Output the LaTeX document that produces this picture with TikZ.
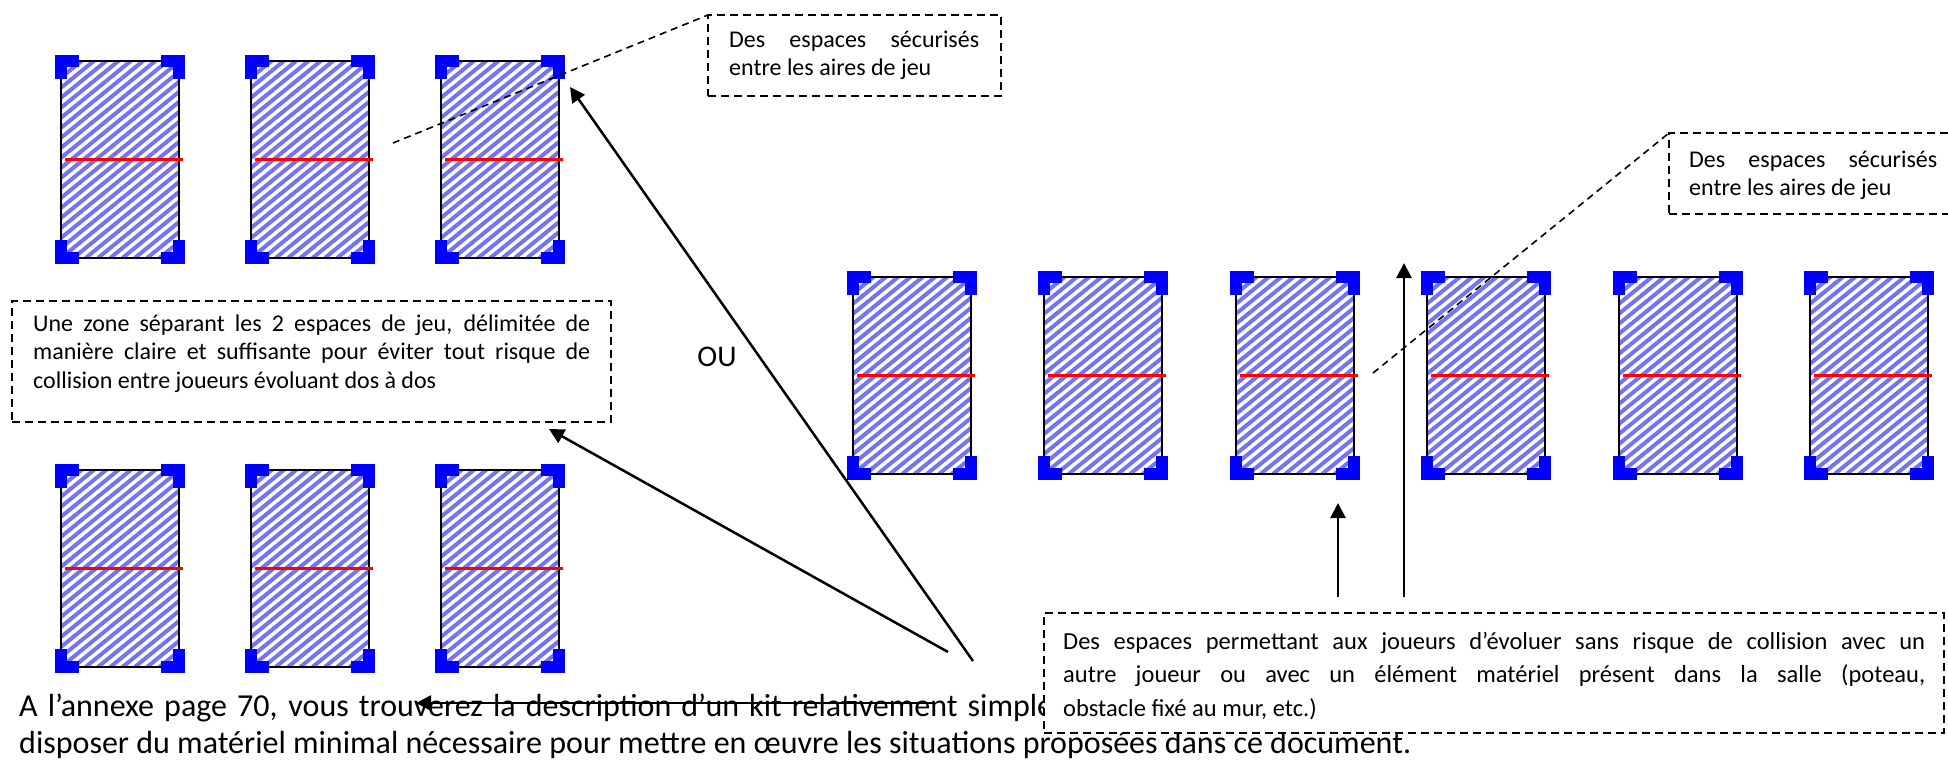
\documentclass[tikz,border=0pt]{standalone}
\usepackage{fontspec}
\setmainfont{Carlito}
\usetikzlibrary{arrows.meta}
\definecolor{hatchblue}{RGB}{116,116,242}
\newcommand\natsp{\spaceskip=0pt\relax\xspaceskip=0pt\relax}
\newcommand\playcourt[3]{%
  \node[court] (#1) at (#2,#3) {};
  \draw[netline] ([xshift=4pt]#1.west) -- ([xshift=4pt]#1.east);
  \draw[cmark] ([xshift=18pt]#1.north west) -- (#1.north west) -- ([yshift=-18pt]#1.north west);
  \draw[cmark] ([xshift=-18pt]#1.north east) -- (#1.north east) -- ([yshift=-18pt]#1.north east);
  \draw[cmark] ([xshift=18pt]#1.south west) -- (#1.south west) -- ([yshift=18pt]#1.south west);
  \draw[cmark] ([xshift=-18pt]#1.south east) -- (#1.south east) -- ([yshift=18pt]#1.south east);
}
\begin{document}
\begin{tikzpicture}[x=1pt,y=-1pt,
  court/.style={draw=black, line width=1.6pt, anchor=north west,
    minimum width=118pt, minimum height=197pt, inner sep=0pt, outer sep=0pt,
    path picture={\foreach \k in {-21,...,10}{\draw[hatchblue, line width=4pt]
      ([xshift=\k*12.3pt]path picture bounding box.south west) -- ++(280,-228);}}},
  netline/.style={draw=red, line width=2.5pt},
  cmark/.style={draw=blue, line width=12pt, line join=miter},
  dbox/.style={draw=black, line width=1.8pt, dash pattern=on 8pt off 5pt, fill=white,
    inner sep=0pt, outer sep=0pt, anchor=north west},
  smalltxt/.style={font=\fontsize{24pt}{28.8pt}\selectfont, inner sep=0pt, anchor=base west, align=left},
  midtxt/.style={font=\fontsize{24.5pt}{33.5pt}\selectfont, inner sep=0pt, anchor=base west, align=left},
  bodytxt/.style={font=\fontsize{32pt}{37pt}\selectfont, inner sep=0pt, anchor=base west, align=left},
  leader/.style={draw=black, line width=1.6pt, dash pattern=on 7pt off 5pt},
  arr/.style={draw=black, line width=2.5pt, -{Triangle[length=15pt,width=15pt]}},
]
\useasboundingbox (0,0) rectangle (1948,761);

% courts
\playcourt{tla}{61}{61}
\playcourt{tlb}{251}{61}
\playcourt{tlc}{441}{61}
\playcourt{bla}{61}{470}
\playcourt{blb}{251}{470}
\playcourt{blc}{441}{470}
\playcourt{ra}{853}{277}
\playcourt{rb}{1044}{277}
\playcourt{rc}{1236}{277}
\playcourt{rd}{1427}{277}
\playcourt{re}{1619}{277}
\playcourt{rf}{1810}{277}

% body text (partly covered by the box)
\node[bodytxt, text width=1900pt] (body) at (19,716)
  {\natsp\makebox[1034pt][s]{A l’annexe page 70, vous trouverez la description d’un kit relativement simple}\\
   disposer du matériel minimal nécessaire pour mettre en œuvre les situations proposées dans ce document.};

% boxes
\node[dbox, minimum width=293pt, minimum height=81pt] (boxa) at (708,15) {};
\node[smalltxt, text width=250pt] (txta) at (729,47)
  {\natsp\makebox[250pt][s]{Des espaces sécurisés}\\entre les aires de jeu};

\node[dbox, minimum width=320pt, minimum height=81pt] (boxb) at (1669,133) {};
\node[smalltxt, text width=248pt] (txtb) at (1689,167)
  {\natsp\makebox[248pt][s]{Des espaces sécurisés}\\entre les aires de jeu};

\node[dbox, minimum width=599pt, minimum height=121pt] (boxc) at (12,301) {};
\node[smalltxt, text width=557pt] (txtc) at (33,331)
  {\natsp\makebox[557pt][s]{Une zone séparant les 2 espaces de jeu, délimitée de}\\
   \makebox[557pt][s]{manière claire et suffisante pour éviter tout risque de}\\
   collision entre joueurs évoluant dos à dos};

\node[dbox, minimum width=900pt, minimum height=120pt] (boxd) at (1044,613) {};
\node[midtxt, text width=862pt] (txtd) at (1063,649)
  {\natsp\makebox[862pt][s]{Des espaces permettant aux joueurs d’évoluer sans risque de collision avec un}\\
   \makebox[862pt][s]{autre joueur ou avec un élément matériel présent dans la salle (poteau,}\\
   obstacle fixé au mur, etc.)};

\node[font=\fontsize{30pt}{36pt}\selectfont, inner sep=0pt] (ou) at (717,357) {OU};

% dashed leaders
\coordinate (lsa) at (393,143);
\draw[leader] (lsa) -- (boxa.north west);
\coordinate (lsb) at (1373,373);
\draw[leader] (lsb) -- (boxb.north west);

% arrows
\coordinate (asa) at (973,661);
\draw[arr] (asa) -- ([shift={(11,26)}]tlc.north east);
\coordinate (asb) at (948,652);
\draw[arr] (asb) -- ([shift={(-62,7)}]boxc.south east);
\coordinate (asc) at (935,703);
\coordinate (aec) at (416,703);
\draw[arr] (asc) -- (aec);
\coordinate (asd) at ([shift={(294,-16)}]boxd.north west);
\draw[arr] (asd) -- ([shift={(-16,29)}]rc.south east);
\coordinate (ase) at ([shift={(360,-16)}]boxd.north west);
\coordinate (aee) at (1404,263);
\draw[arr] (ase) -- (aee);
\end{tikzpicture}
\end{document}
